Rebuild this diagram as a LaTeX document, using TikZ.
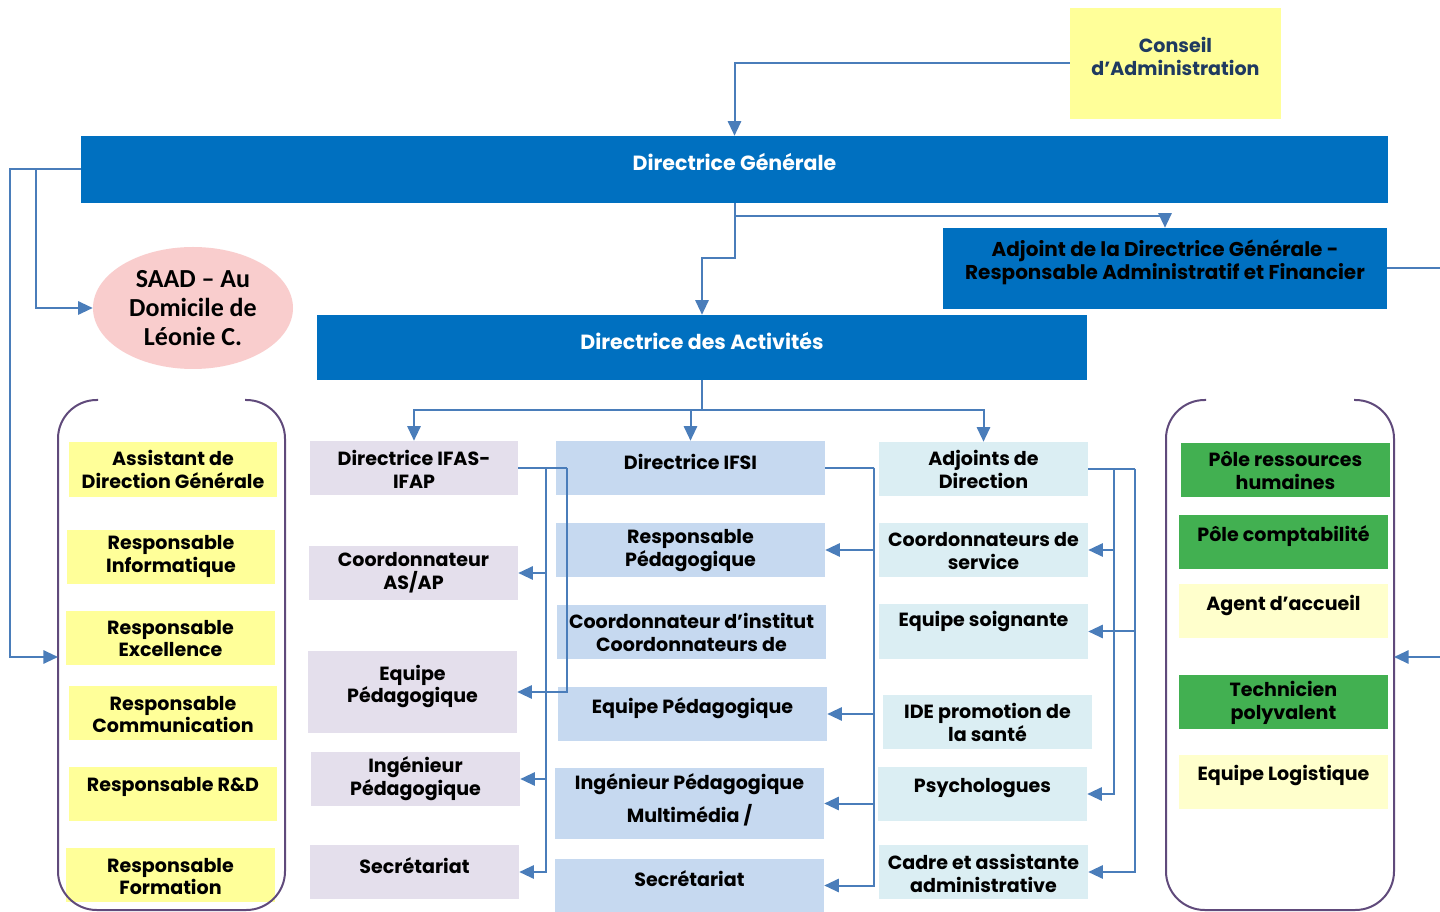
\documentclass[tikz,border=0pt]{standalone}
\usepackage{fontspec}
\setmainfont{Poppins}
\newfontfamily\saadfont{Carlito}
\usetikzlibrary{arrows.meta,shapes.geometric,calc}
\definecolor{dgblue}{HTML}{0070C0}
\definecolor{cline}{HTML}{4A7DBA}
\definecolor{ylw}{HTML}{FFFF99}
\definecolor{lav}{HTML}{E4DFEC}
\definecolor{ifsib}{HTML}{C6D9F0}
\definecolor{cyanl}{HTML}{DBEEF3}
\definecolor{grn}{HTML}{42B051}
\definecolor{ylwl}{HTML}{FFFFCC}
\definecolor{pinkl}{HTML}{F9CDCD}
\definecolor{brkc}{HTML}{604A7B}
\definecolor{navy}{HTML}{1F3A60}
\tikzset{
  boxsty/.style={rectangle, draw=none, inner sep=0pt},
  txt/.style={inner sep=0pt, align=center, font=\bfseries\fontsize{14.3}{17.2}\selectfont, text=black},
  conn/.style={draw=cline, line width=1.5pt},
  arr/.style={-{Triangle[length=11pt,width=10pt]}},
  brk/.style={draw=brkc, line width=1.5pt, rounded corners=29pt},
}
\newcommand\mkbox[8]{%
  \node[boxsty, fill=#2, minimum width={(#5-#3)*0.75pt}, minimum height={(#6-#4)*0.75pt}] (#1) at ({(#3+#5)/2},{(#4+#6)/2}) {};
  \node[txt] (#1-t) at ({(#3+#5)/2},#8) {#7};}
\begin{document}
\begin{tikzpicture}[x=0.75pt,y=-0.75pt]
\useasboundingbox[fill=white] (0,0) rectangle (1440,912);
% top
\mkbox{conseil}{ylw}{1070}{8}{1281}{119}{\textcolor{navy}{Conseil}\\\textcolor{navy}{d’Administration}}{56}
\mkbox{dg}{dgblue}{81}{136}{1388}{203}{\fontsize{15.4}{18}\selectfont\textcolor{white}{Directrice Générale}}{162}
\mkbox{adj}{dgblue}{943}{228}{1387}{309}{\fontsize{15}{17}\selectfont Adjoint de la Directrice Générale -\\\fontsize{15}{17}\selectfont Responsable Administratif et Financier}{262}
\mkbox{da}{dgblue}{317}{315}{1087}{380}{\fontsize{15.4}{18}\selectfont\textcolor{white}{Directrice des Activités}}{341}
\node[ellipse, fill=pinkl, minimum width=150pt, minimum height=91.5pt, inner sep=0pt, align=center, font=\saadfont\bfseries\fontsize{19.5}{21.75}\selectfont] (saad) at (193,308) {SAAD – Au\\Domicile de\\Léonie C.};
% left column
\mkbox{l1}{ylw}{69}{442}{277}{497}{Assistant de\\Direction Générale}{469}
\mkbox{l2}{ylw}{67}{530}{275}{584}{Responsable\\Informatique}{556.5}
\mkbox{l3}{ylw}{66}{611}{275}{665}{Responsable\\Excellence}{638.5}
\mkbox{l4}{ylw}{69}{686}{277}{740}{Responsable\\Communication}{714.5}
\mkbox{l5}{ylw}{69}{767}{277}{821}{Responsable R\&D}{787}
\mkbox{l6}{ylw}{66}{848}{275}{902}{Responsable\\Formation}{876.5}
% IFAS column
\mkbox{ifas1}{lav}{310}{441}{518}{495}{Directrice IFAS-\\IFAP}{469}
\mkbox{ifas2}{lav}{309}{546}{518}{600}{Coordonnateur\\AS/AP}{573}
\mkbox{ifas3}{lav}{308}{651}{517}{733}{Equipe\\Pédagogique}{686.5}
\mkbox{ifas4}{lav}{311}{752}{520}{806}{Ingénieur\\Pédagogique}{779}
\mkbox{ifas5}{lav}{310}{845}{519}{899}{Secrétariat}{866}
% IFSI column
\mkbox{ifsi1}{ifsib}{556}{441}{825}{495}{Directrice IFSI}{462}
\mkbox{ifsi2}{ifsib}{556}{523}{825}{577}{Responsable\\Pédagogique}{551}
\mkbox{ifsi3}{ifsib}{557}{605}{826}{659}{Coordonnateur d’institut\\Coordonnateurs de}{632.5}
\mkbox{ifsi4}{ifsib}{558}{687}{827}{741}{Equipe Pédagogique}{708}
\mkbox{ifsi5}{ifsib}{555}{768}{824}{839}{Ingénieur Pédagogique\\[6pt]Multimédia /}{800}
\mkbox{ifsi6}{ifsib}{555}{859}{824}{912}{Secrétariat}{879}
% Adjoints column
\mkbox{ad1}{cyanl}{879}{442}{1088}{496}{Adjoints de\\Direction}{469.5}
\mkbox{ad2}{cyanl}{879}{523}{1088}{577}{Coordonnateurs de\\service}{551}
\mkbox{ad3}{cyanl}{879}{604}{1088}{659}{Equipe soignante}{621}
\mkbox{ad4}{cyanl}{883}{695}{1092}{749}{IDE promotion de\\la santé}{722.5}
\mkbox{ad5}{cyanl}{878}{767}{1087}{821}{Psychologues}{788}
\mkbox{ad6}{cyanl}{879}{845}{1088}{899}{Cadre et assistante\\administrative}{873}
% right column
\mkbox{r1}{grn}{1181}{443}{1390}{497}{Pôle ressources\\humaines}{470.5}
\mkbox{r2}{grn}{1179}{515}{1388}{569}{Pôle comptabilité}{536}
\mkbox{r3}{ylwl}{1179}{584}{1388}{638}{Agent d’accueil}{605}
\mkbox{r4}{grn}{1179}{675}{1388}{729}{Technicien\\polyvalent}{703}
\mkbox{r5}{ylwl}{1179}{755}{1388}{809}{Equipe Logistique}{775}
% brackets
\draw[brk] (98,400) -- (58,400) -- (58,910) -- (285,910) -- (285,400) -- (245,400);
\draw[brk] (1206,400) -- (1166,400) -- (1166,910) -- (1394,910) -- (1394,400) -- (1354,400);
\coordinate (lbr) at (58,657);
\coordinate (rbr) at (1394,657);
% connectors top
\draw[conn,arr] (conseil.west) -| (dg.north);
\coordinate (j1) at (734.5,216);
\coordinate (j2) at (734.5,258);
\draw[conn,arr] (dg.south) -- (j1) -| (adj.north);
\draw[conn,arr] (dg.south) -- (j2) -| (da.north);
\coordinate (k1) at (10,169.5);
\coordinate (k2) at (36,169.5);
\draw[conn,arr] (dg.west) -- (k1) |- (lbr);
\draw[conn,arr] (k2) |- (saad.west);
\coordinate (e1) at (1440,268.5);
\coordinate (e2) at (1440,657);
\draw[conn] (adj.east) -- (e1);
\draw[conn,arr] (e2) -- (rbr);
% Directrice des Activites
\coordinate (m) at (702,410);
\draw[conn] (da.south) -- (m);
\draw[conn,arr] (m) -| (ifas1.north);
\draw[conn,arr] (m) -| (ifsi1.north);
\draw[conn,arr] (m) -| (ad1.north);
% IFAS
\coordinate (a1) at (546,468);
\coordinate (a2) at (567,468);
\draw[conn] (ifas1.east) -- (a2);
\draw[conn,arr] (a1) |- (ifas2.east);
\draw[conn,arr] (a1) |- (ifas4.east);
\draw[conn,arr] (a1) |- (ifas5.east);
\draw[conn,arr] (a2) |- (ifas3.east);
% IFSI
\coordinate (b1) at (874,468);
\draw[conn] (ifsi1.east) -- (b1);
\draw[conn,arr] (b1) |- (ifsi2.east);
\draw[conn,arr] (b1) |- (ifsi4.east);
\draw[conn,arr] (b1) |- (ifsi5.east);
\draw[conn,arr] (b1) |- (ifsi6.east);
% Adjoints
\coordinate (c1) at (1114,469);
\coordinate (c2) at (1135,469);
\draw[conn] (ad1.east) -- (c2);
\draw[conn,arr] (c1) |- (ad2.east);
\draw[conn,arr] (c1) |- (ad5.east);
\draw[conn,arr] (c2) |- (ad3.east);
\draw[conn,arr] (c2) |- (ad6.east);
\end{tikzpicture}
\end{document}
